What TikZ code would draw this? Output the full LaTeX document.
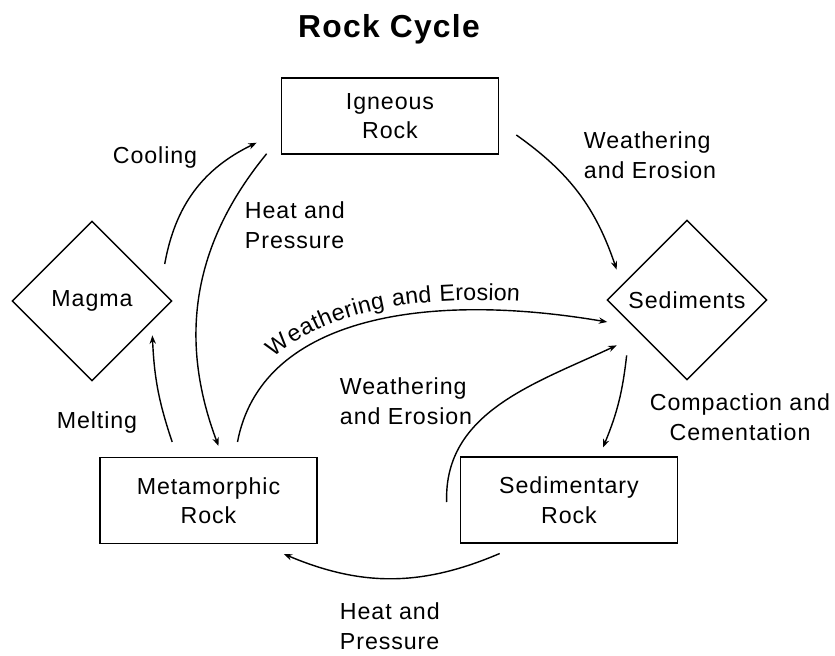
\documentclass[tikz,border=0pt]{standalone}
\usepackage{fontspec}
\setmainfont{Liberation Sans}[LetterSpace=4]
\usetikzlibrary{arrows.meta,shapes.geometric,calc,decorations.text}

\begin{document}
\begin{tikzpicture}[x=0.025cm,y=-0.025cm,>={Stealth[length=6pt,width=4.5pt]},
  font=\fontsize{16.5}{21}\selectfont,
  box/.style={draw,line width=1pt,minimum width=5.43cm,minimum height=2.14cm,align=center},
  dia/.style={draw,diamond,line width=1pt,minimum width=4cm,minimum height=4cm,inner sep=0pt},
  flow/.style={->,line width=1pt}]
\useasboundingbox (0,0) rectangle (835,656);
\node[font=\fontsize{22.6}{26}\selectfont\bfseries] (title) at (389,29) {Rock Cycle};
\node[box,minimum height=1.9cm] (ign) at (390,116) {Igneous\\Rock};
\node[dia] (mag) at (92,301) {Magma};
\node[dia] (sed) at (687,300) {Sediments};
\node[box] (met) at (208.5,500.5) {Metamorphic\\Rock};
\node[box] (sedr) at (569,500) {Sedimentary\\Rock};
% labels
\node (cool) at (155,158) {Cooling};
\node[align=left,anchor=west] (hp1) at (240,225) {Heat and\\Pressure};
\node[align=left,anchor=west] (we1) at (579,155) {Weathering\\and Erosion};
\node (melt) at (97,422) {Melting};
\node[align=left,anchor=west] (we2) at (335,401) {Weathering\\and Erosion};
\node[align=center] (cc) at (740,417) {Compaction and\\Cementation};
\node[align=left,anchor=west] (hp2) at (335,626) {Heat and\\Pressure};
% arrows
\draw[flow] ($(mag.east)+(-8,-37)$) to[bend left=27] ($(ign.south west)+(-24,-12)$);
\draw[flow] ($(ign.south west)+(-14,-1)$) to[bend right=30] ($(met.north)+(10,-11)$);
\draw[flow] ($(met.north west)+(73,-15)$) to[bend left=8] ($(mag.south east)+(20,-6)$);
\draw[flow,postaction={decorate,decoration={text along path,raise=7pt,text align=center,
    text={|\fontsize{16.5}{21}\selectfont|Weathering and Erosion}}}]
  ($(met.north)+(29,-15)$) .. controls +(23,-122) and +(-188,-32) .. ($(sed.west)+(1,22)$);
\draw[flow] ($(ign.east)+(17,19)$) to[bend left=18] ($(sed.north west)+(-30,10)$);
\draw[flow] ($(sed.south west)+(-20,15)$) to[bend left=8] ($(sedr.north)+(34,-9)$);
\draw[flow] ($(sedr.west)+(-13,2)$) .. controls +(-3,-90) and +(-81,38) .. ($(sed.south west)+(-30,5)$);
\draw[flow] ($(sedr.south west)+(40,10)$) to[bend left=23] ($(met.south east)+(-34,10)$);
\end{tikzpicture}
\end{document}
